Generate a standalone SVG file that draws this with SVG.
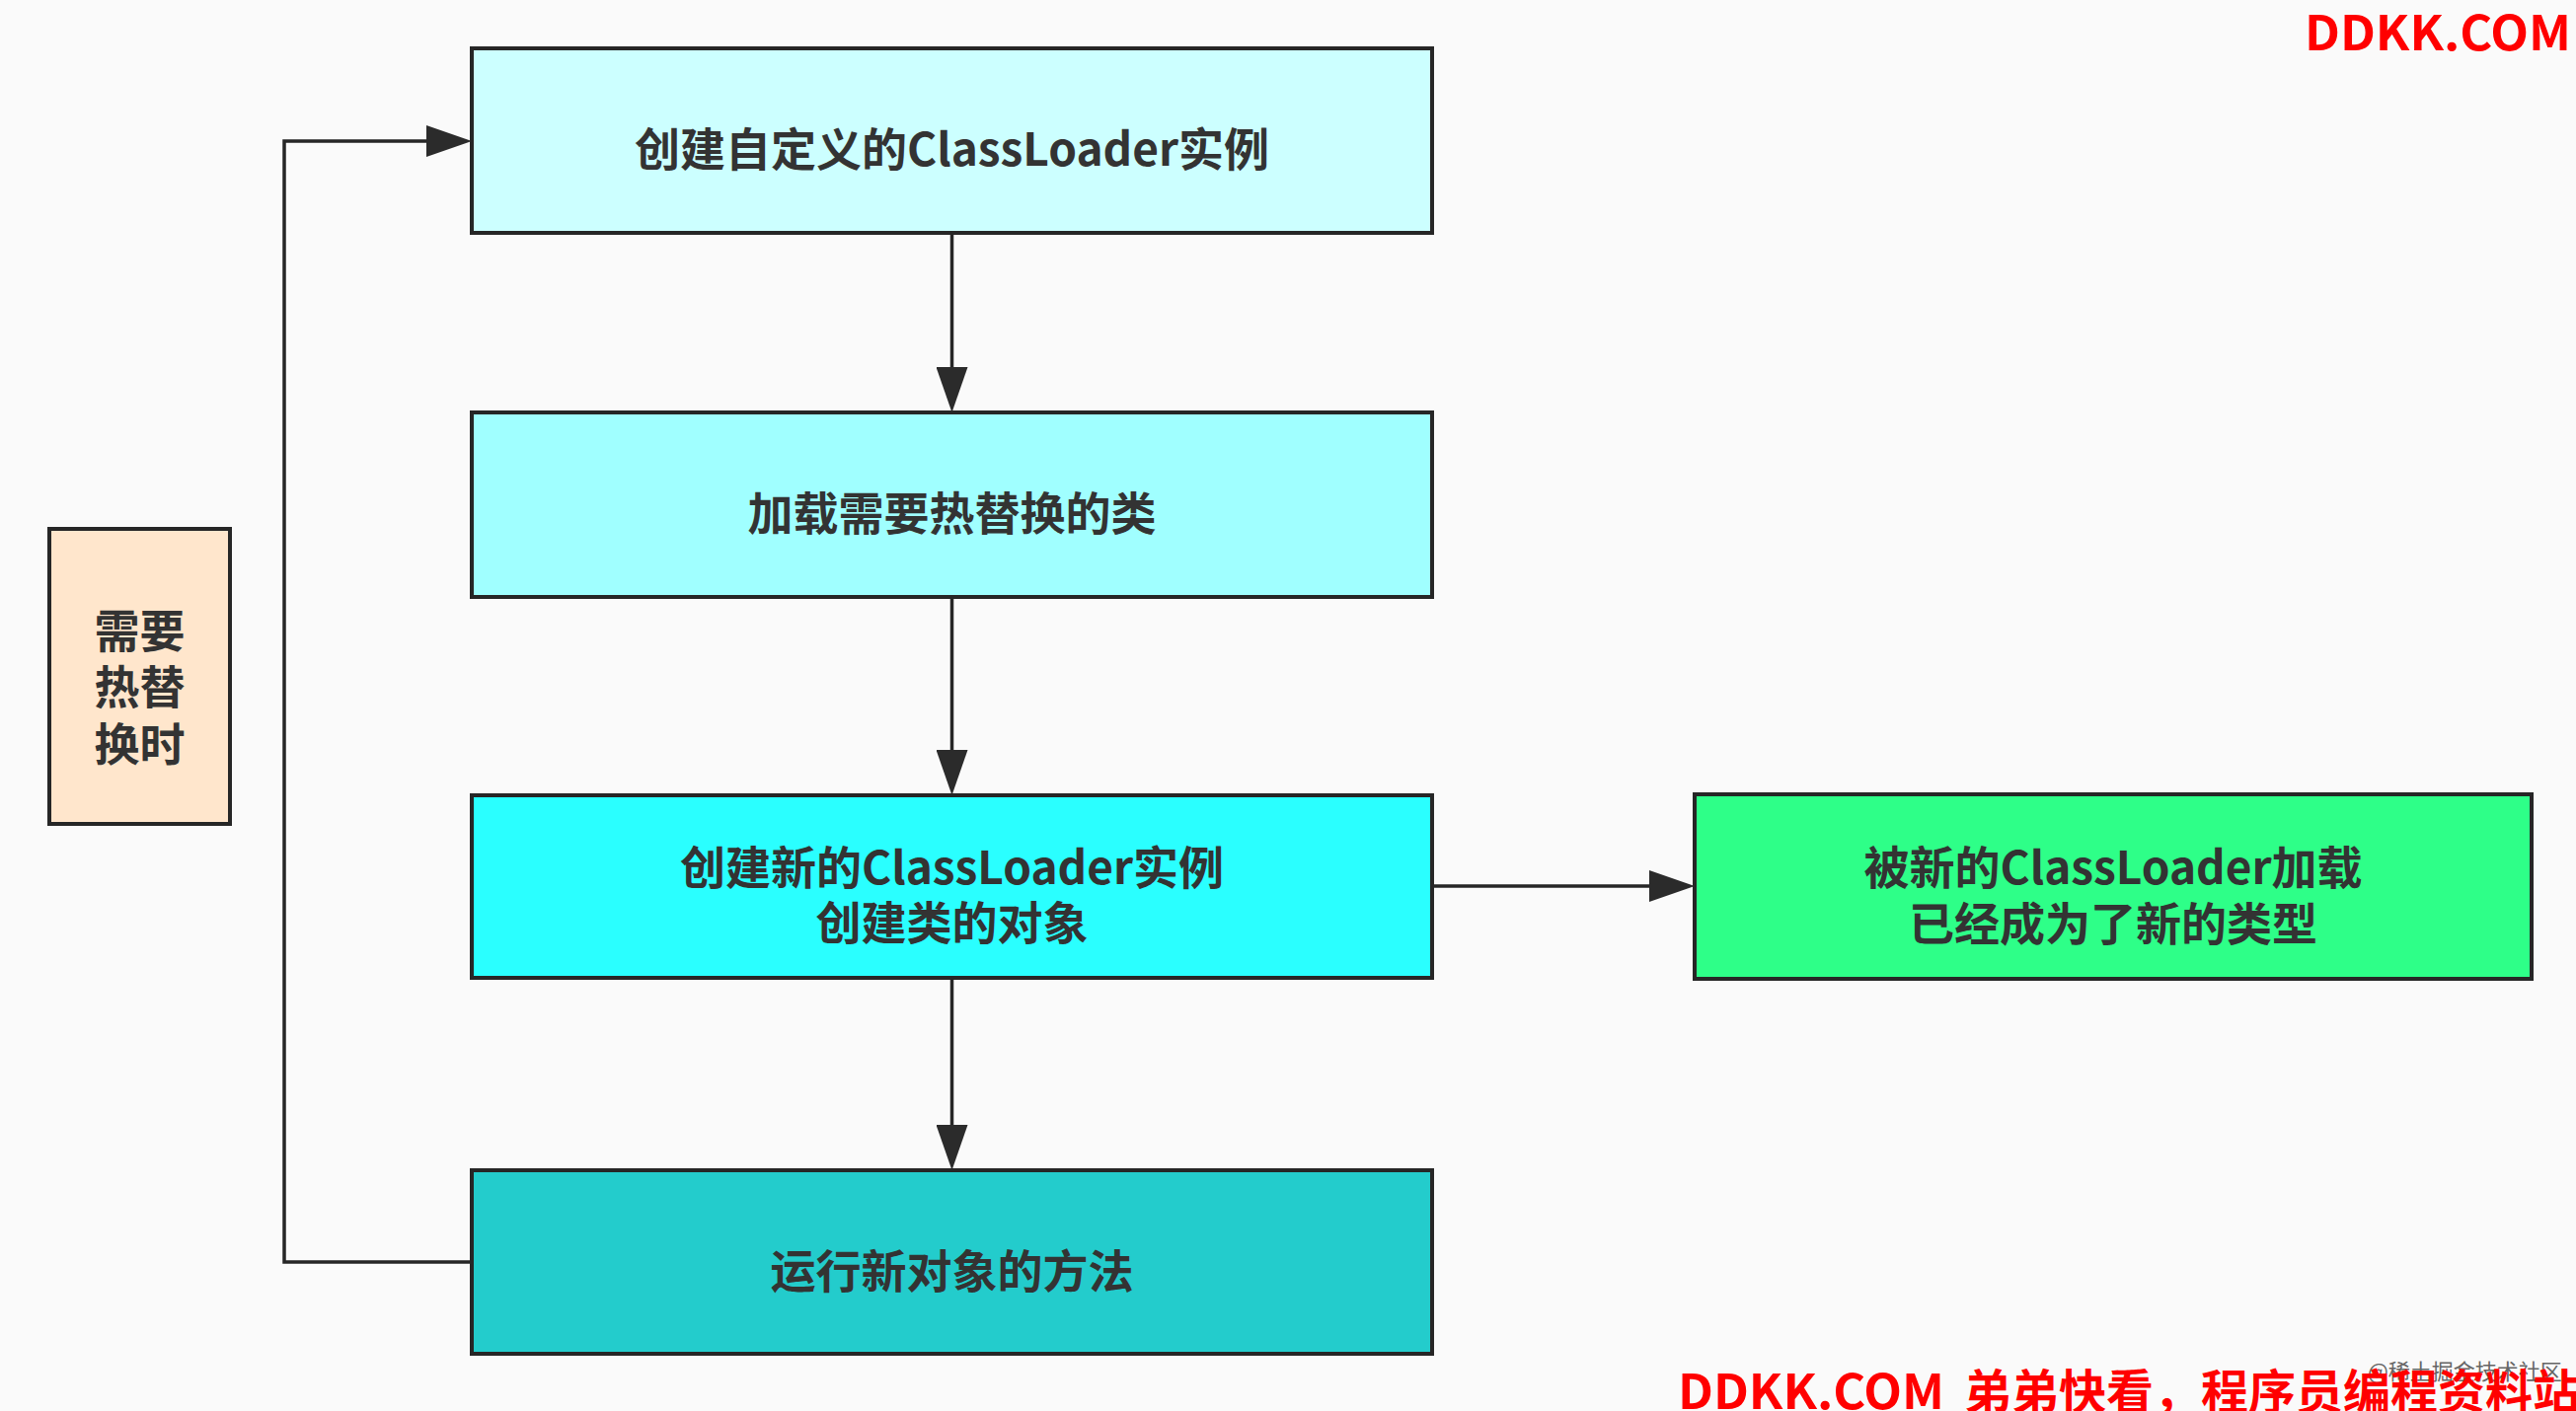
<svg xmlns="http://www.w3.org/2000/svg" width="2610" height="1430" viewBox="0 0 2610 1430">
<style>
.box{stroke:#262626;stroke-width:4}
.lbl{font-family:"Noto Sans CJK SC","Liberation Sans",sans-serif;font-weight:bold;font-size:46px;fill:#333333;text-anchor:middle;dominant-baseline:central}
.conn{fill:none;stroke:#262626;stroke-width:3.5}
.wm{font-family:"Noto Sans CJK SC","Liberation Sans",sans-serif;font-weight:bold;font-size:48px;fill:#FF0000}
</style>
<defs>
<marker id="arr" markerUnits="userSpaceOnUse" viewBox="0 0 46 32" refX="0" refY="16" markerWidth="46" markerHeight="32" orient="auto">
<path d="M0,0 L46,16 L0,32 Z" fill="#2b2b2b"/>
</marker>
</defs>
<rect x="0" y="0" width="2610" height="1430" fill="#FAFAFA"/>

<g id="connectors">
<path class="conn" d="M964.5,236 L964.5,372" marker-end="url(#arr)"/>
<path class="conn" d="M964.5,605 L964.5,760" marker-end="url(#arr)"/>
<path class="conn" d="M964.5,991 L964.5,1140" marker-end="url(#arr)"/>
<path class="conn" d="M1451,898 L1671,898" marker-end="url(#arr)"/>
<path class="conn" d="M478,1279 L288,1279 L288,143 L432,143" marker-end="url(#arr)"/>
</g>

<g id="node-create-loader">
<rect class="box" x="478" y="49" width="973" height="187" fill="#CCFFFF"/>
<text class="lbl" x="964.5" y="148">创建自定义的ClassLoader实例</text>
</g>
<g id="node-load-class">
<rect class="box" x="478" y="418" width="973" height="187" fill="#A0FFFF"/>
<text class="lbl" x="964.5" y="517">加载需要热替换的类</text>
</g>
<g id="node-new-loader">
<rect class="box" x="478" y="806" width="973" height="185" fill="#2AFFFF"/>
<text class="lbl" x="964.5" y="876">创建新的ClassLoader实例</text>
<text class="lbl" x="964.5" y="932">创建类的对象</text>
</g>
<g id="node-run">
<rect class="box" x="478" y="1186" width="973" height="186" fill="#23CCCC"/>
<text class="lbl" x="964.5" y="1285">运行新对象的方法</text>
</g>
<g id="node-hot-swap">
<rect class="box" x="50" y="536" width="183" height="299" fill="#FFE6CC"/>
<text class="lbl" x="141.5" y="636">需要</text>
<text class="lbl" x="141.5" y="693">热替</text>
<text class="lbl" x="141.5" y="751">换时</text>
</g>
<g id="node-new-type">
<rect class="box" x="1717" y="805" width="848" height="187" fill="#2EFF88"/>
<text class="lbl" x="2141" y="876">被新的ClassLoader加载</text>
<text class="lbl" x="2141" y="933">已经成为了新的类型</text>
</g>

<g id="watermarks">
<text x="2399" y="1398" font-family="Noto Sans CJK SC, sans-serif" font-size="22" fill="#666666">@稀土掘金技术社区</text>
<text class="wm" x="2335" y="51" textLength="270" lengthAdjust="spacingAndGlyphs">DDKK.COM</text>
<text class="wm" y="1428"><tspan x="1700" textLength="270" lengthAdjust="spacingAndGlyphs">DDKK.COM</tspan><tspan x="1990">弟弟快看，程序员编程资料站</tspan></text>
</g>
</svg>
